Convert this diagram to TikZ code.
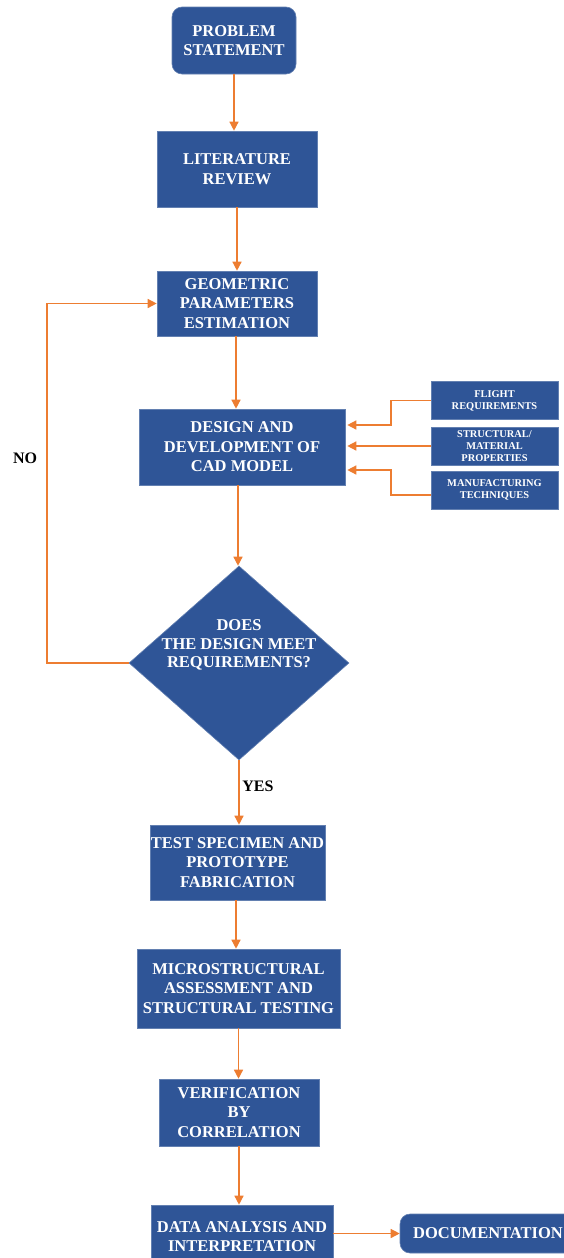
\documentclass[tikz,border=0pt]{standalone}
\usepackage{fontspec}
\setmainfont{Liberation Serif}
\usepackage{xcolor}
\usetikzlibrary{shapes.geometric,arrows.meta}
\definecolor{boxblue}{HTML}{2F5597}
\definecolor{flowor}{HTML}{ED7D31}

\begin{document}
\begin{tikzpicture}[x=1pt, y=-1pt,
  box/.style={draw=boxblue!75!white, line width=0.6pt, fill=boxblue, text=white, align=center, inner sep=0pt,
    font=\fontsize{16.5}{19.5}\selectfont\bfseries},
  roundbox/.style={box, rounded corners=10pt},
  sidebox/.style={box, minimum width=127pt, minimum height=38pt, font=\fontsize{10.4}{12}\selectfont\bfseries},
  decision/.style={diamond, aspect=1.13, fill=boxblue, draw=boxblue!75!white, line width=0.6pt, inner sep=0pt,
    minimum width=220pt, minimum height=194pt},
  lbl/.style={text=white, align=center, font=\fontsize{16.5}{18.5}\selectfont\bfseries},
  answer/.style={font=\fontsize{16}{18}\selectfont\bfseries},
  flow/.style={draw=flowor, line width=1.4pt, -{Triangle[length=9pt,width=9pt]}}
  ]
  \useasboundingbox (0,0) rectangle (564,1258);

  \node[roundbox, minimum width=124pt, minimum height=67pt] (prob) at (234,40.5) {PROBLEM\\STATEMENT};
  \node[box, minimum width=160pt, minimum height=76pt] (lit) at (237,169) {LITERATURE\\REVIEW};
  \node[box, minimum width=160pt, minimum height=65pt] (geo) at (237,303.5) {GEOMETRIC\\PARAMETERS\\ESTIMATION};
  \node[box, minimum width=206pt, minimum height=76pt] (cad) at (242,447) {DESIGN AND\\DEVELOPMENT OF\\CAD MODEL};

  \node[sidebox] (flight) at (494.5,400.5) {FLIGHT\\REQUIREMENTS};
  \node[sidebox] (matl) at (494.5,446) {STRUCTURAL/\\MATERIAL\\PROPERTIES};
  \node[sidebox] (manuf) at (494.5,490) {MANUFACTURING\\TECHNIQUES};

  \node[decision] (dec) at (239,663) {};
  \node[lbl] (dectext) at (239,645) {DOES\\THE DESIGN MEET\\REQUIREMENTS?};

  \node[box, minimum width=175pt, minimum height=75pt] (test) at (237.5,862.5) {TEST SPECIMEN AND\\PROTOTYPE\\FABRICATION};
  \node[box, minimum width=203pt, minimum height=79pt] (micro) at (238.5,988.5) {MICROSTRUCTURAL\\ASSESSMENT AND\\STRUCTURAL TESTING};
  \node[box, minimum width=160pt, minimum height=67pt] (verif) at (239,1112.5) {VERIFICATION\\BY\\CORRELATION};
  \node[box, minimum width=182pt, minimum height=63pt] (data) at (242,1236.5) {DATA ANALYSIS AND\\INTERPRETATION};
  \node[roundbox, minimum width=176pt, minimum height=39pt] (doc) at (488,1233.5) {DOCUMENTATION};

  \node[answer] (no) at (25,458) {NO};
  \node[answer] (yes) at (258,786) {YES};

  \coordinate (noturn) at (47,663);
  \coordinate (fbend) at (391,425);
  \coordinate (mbend) at (391,470);

  \draw[flow] (prob.south) -- (prob.south |- lit.north);
  \draw[flow] (lit.south) -- (lit.south |- geo.north);
  \draw[flow] ([xshift=-1pt]geo.south) -- ([xshift=-1pt]geo.south |- cad.north);
  \draw[flow] ([xshift=-4pt]cad.south) -- ([xshift=-4pt]cad.south |- dec.north);
  \draw[flow] (dec.west) -- (noturn) |- (geo.west);
  \draw[flow] (flight.west) -| (fbend) -- ([xshift=2pt]fbend -| cad.east);
  \draw[flow] (matl.west) -- ([xshift=2pt]matl.west -| cad.east);
  \draw[flow] ([yshift=-5pt]manuf.west) -| (mbend) -- ([xshift=2pt]mbend -| cad.east);
  \draw[flow] (dec.south) -- (dec.south |- test.north);
  \draw[flow] ([xshift=-1.5pt]test.south) -- ([xshift=-1.5pt]test.south |- micro.north);
  \draw[flow] (micro.south) -- (micro.south |- verif.north);
  \draw[flow] (verif.south) -- (verif.south |- data.north);
  \draw[flow] (data.east |- doc.west) -- (doc.west);
\end{tikzpicture}
\end{document}
